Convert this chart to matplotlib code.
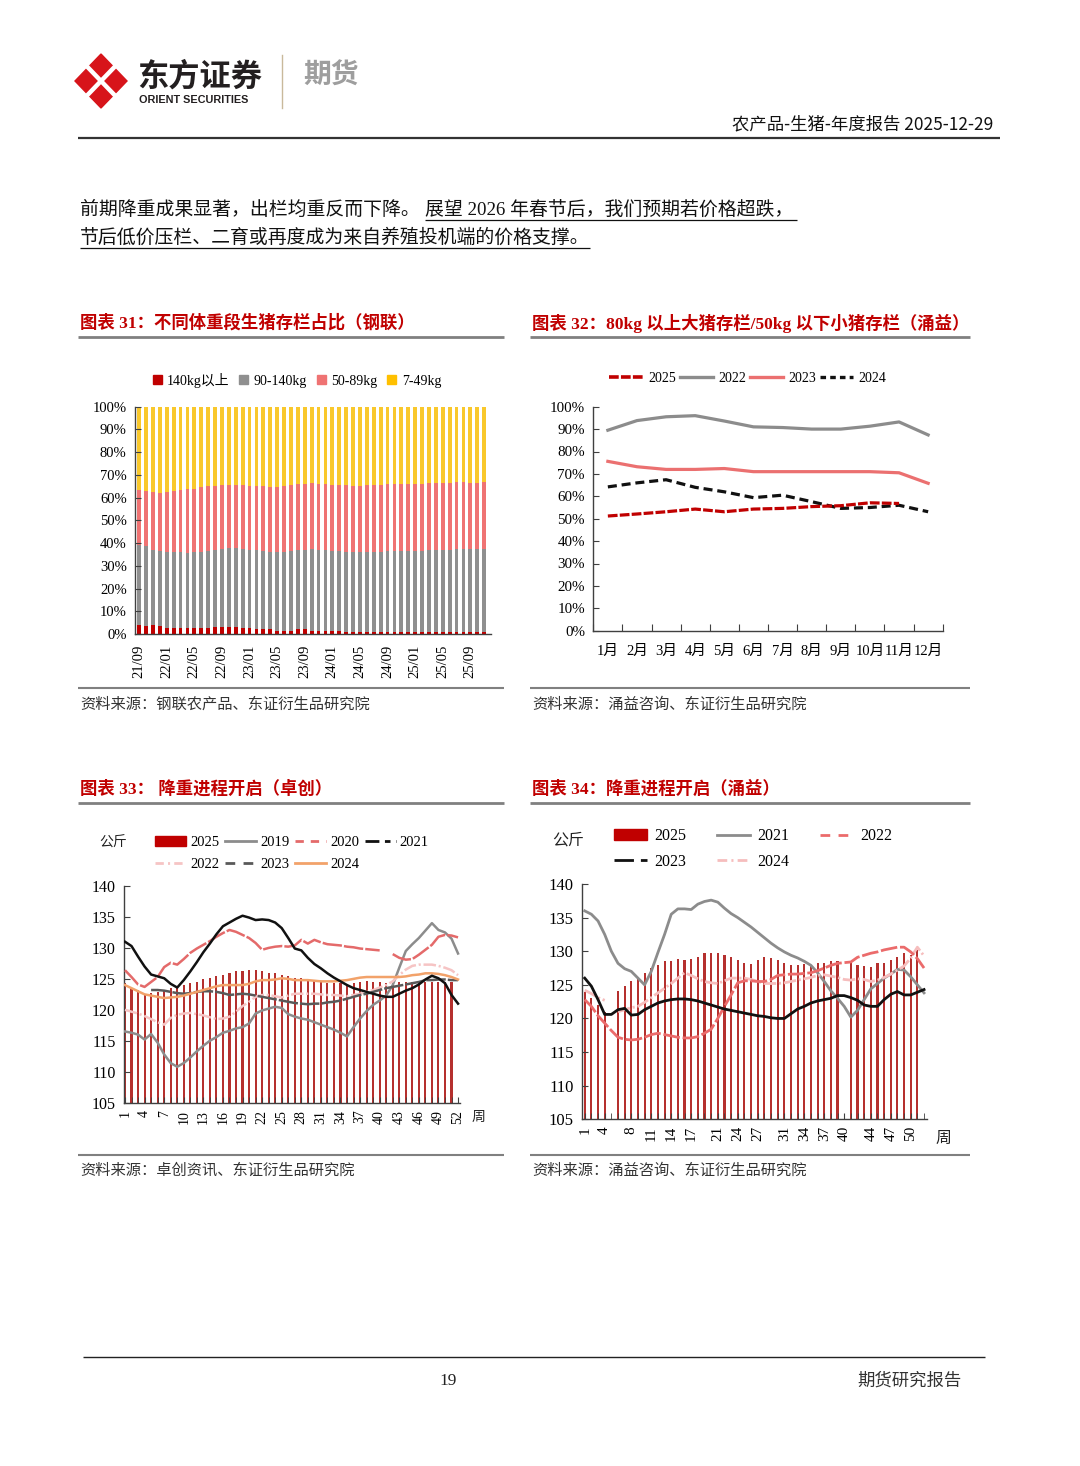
import numpy as np
import matplotlib
matplotlib.use('Agg')
import matplotlib.pyplot as plt
from matplotlib.patches import Polygon, Rectangle
from matplotlib.lines import Line2D

plt.rcParams['font.family'] = ['Liberation Serif', 'Noto Sans CJK SC']
plt.rcParams['lines.scale_dashes'] = False
plt.rcParams['axes.unicode_minus'] = False

W, H = 1080, 1466
RED = '#C00000'
AXC = '#404040'
nan = np.nan

# ---------------- chart 31: share of hogs by weight band (monthly, 21/09 - 25/11)
months31 = ['21/09', '22/01', '22/05', '22/09', '23/01', '23/05', '23/09',
            '24/01', '24/05', '24/09', '25/01', '25/05', '25/09']
heavy = [4, 3.5, 4, 3.5, 2.5, 2.5, 2.5, 2.5, 2.5, 2.5, 2.5, 3, 3, 3, 3, 2.5,
         2.5, 2, 2, 2, 1.5, 1.5, 1.5, 2, 2, 1.5, 1.5, 1.5, 1.5, 1.5, 1, 1,
         1, 1, 1, 1, 1, 1, 1, 1, 1, 1, 1, 1, 1, 1, 1, 1, 1, 1, 1]
mid = [35, 35, 33, 33, 33.5, 33.5, 33.5, 33, 33.5, 33.5, 34, 34, 34.5, 35, 35,
       35, 34.5, 35, 34.5, 34, 34.5, 34.5, 35, 35, 35, 36, 35.5, 35.5, 35, 35,
       35, 35, 35, 35, 35, 35, 35.5, 35.5, 35.5, 35.5, 35.5, 35.5, 36, 36, 36,
       36, 36.5, 36.5, 36.5, 36.5, 36.5]
light = [24.5, 24.5, 25.5, 25.5, 26.5, 27, 27.5, 28.5, 28, 28.5, 28.5, 28, 28,
         27.5, 27.5, 28, 28, 28, 28.5, 28.5, 28.5, 29, 29, 29, 29, 29, 29, 29,
         29, 29, 29.5, 29, 29, 29.5, 29.5, 29.5, 29.5, 29.5, 29.5, 29.5, 29.5,
         29.5, 29.5, 29.5, 29.5, 29.5, 29.5, 29.5, 29, 29, 29.5]
small = [36.5, 37, 37.5, 38, 37.5, 37, 36.5, 36, 36, 35.5, 35, 35, 34.5, 34.5,
         34.5, 34.5, 35, 35, 35, 35.5, 35.5, 35, 34.5, 34, 34, 33.5, 34, 34,
         34.5, 34.5, 34.5, 35, 35, 34.5, 34.5, 34.5, 34, 34, 34, 34, 34, 34,
         33.5, 33.5, 33.5, 33.5, 33, 33, 33.5, 33.5, 33]

# ---------------- chart 32: big hogs / piglets ratio (%)
month_names = ['1月', '2月', '3月', '4月', '5月', '6月', '7月', '8月', '9月',
               '10月', '11月', '12月']
r2022 = [89.5, 93.8, 95.5, 96.0, 93.6, 91.0, 90.7, 90.0, 90.0, 91.3, 93.2, 87.4]
r2023 = [75.6, 73.2, 72.0, 72.0, 72.4, 71.0, 71.0, 71.0, 71.0, 71.0, 70.5, 65.8]
r2024 = [64.2, 66.0, 67.4, 64.0, 62.0, 59.4, 60.5, 57.6, 54.6, 55.0, 56.0, 53.1]
r2025 = [51.2, 52.1, 53.1, 54.3, 53.1, 54.3, 54.6, 55.4, 55.8, 57.1, 56.8]

# ---------------- chart 33: slaughter weight, Zhuochuang (kg, weekly)
wk33_labels = [1, 4, 7, 10, 13, 16, 19, 22, 25, 28, 31, 34, 37, 40, 43, 46, 49, 52]
z2025 = [124.3, 123.5, 123.2, 122.4, 122.7, 122.9, 123.2, 123.5, 123.7, 124.0,
         124.3, 124.5, 124.9, 125.1, 125.4, 125.6, 126.0, 126.2, 126.3, 126.4,
         126.4, 126.3, 126.0, 125.9, 125.6, 125.5, 125.2, 125.1, 124.9, 124.7,
         124.5, 124.4, 124.4, 124.3, 124.2, 124.3, 124.5, 124.7, 124.5, 124.5,
         124.4, 124.4, 124.5, 124.5, 124.5, 124.5, 124.5, 124.5, 124.5, 124.5,
         124.5]
z2019 = [116.5, 116.3, 116.0, 115.2, 116.1, 114.7, 112.8, 111.4, 110.8, 111.4,
         112.3, 113.3, 114.2, 115.0, 115.6, 116.3, 116.6, 117.0, 117.2, 117.8,
         119.4, 119.9, 120.2, 120.5, 120.3, 119.3, 118.9, 118.6, 118.4, 118.0,
         117.6, 117.2, 116.8, 116.3, 115.7, 117.2, 118.6, 119.8, 120.8, 121.5,
         122.3, 124.0, 126.8, 129.5, 130.6, 131.6, 132.8, 134.0, 132.9, 132.5,
         131.5, 129.1]
z2020 = [126.4, 125.3, 124.1, 123.7, 124.5, 125.3, 126.9, 127.6, 127.3, 128.2,
         129.2, 129.9, 130.5, 131.1, 131.8, 132.4, 132.9, 132.6, 132.1, 131.6,
         130.8, 129.7, 130.0, 130.2, 130.3, 130.2, 130.4, 131.3, 130.7, 131.3,
         130.9, 130.6, 130.5, 130.4, 130.2, 130.1, 129.9, 129.8, 129.7, 129.6,
         nan, 129.0, 128.4, 128.1, 128.2, 128.9, 129.7, 130.5, 131.8, 132.1,
         132.0, 131.7]
z2021 = [131.0, 130.3, 128.6, 127.0, 125.7, 125.4, 125.1, 124.2, 123.6, 124.8,
         126.2, 127.7, 129.3, 130.7, 132.2, 133.5, 134.1, 134.7, 135.2, 134.9,
         134.5, 134.6, 134.5, 134.1, 133.2, 131.6, 129.9, 129.6, 128.4, 127.4,
         126.7, 125.9, 125.2, 124.6, 124.0, 123.5, 123.2, 122.9, 122.6, 122.3,
         122.1, 122.1, 122.6, 123.1, 123.5, 124.1, 124.9, 125.5, 125.1, 124.3,
         122.4, 121.0]
z2022 = [120.0, 119.7, 119.4, 119.0, 118.5, 118.0, 117.6, 118.7, 119.2, 119.4,
         119.5, 119.3, 119.1, 118.8, 118.5, 118.6, 118.9, 119.7, 120.6, 121.3,
         122.1, 122.4, 122.4, 122.2, 122.0, 122.3, 122.6, 122.6, 122.6, 122.6,
         122.5, 122.4, 122.4, 122.3, 122.2, 122.4, 122.6, 122.9, 123.2, 123.6,
         124.0, 124.6, 125.6, 126.5, 127.1, 127.3, 127.3, 127.3, 127.1, 126.8,
         126.4, 125.6]
z2023 = [nan, nan, nan, nan, 123.2, 123.2, 123.1, 122.9, 122.7, 122.6, 122.7,
         122.9, 123.0, 123.0, 122.9, 122.7, 122.4, 122.5, 122.6, 122.5, 122.3,
         122.1, 121.9, 121.7, 121.5, 121.3, 121.1, 121.0, 120.9, 121.0, 121.0,
         121.2, 121.3, 121.5, 121.8, 122.1, 122.4, 122.6, 122.9, 123.2, 123.5,
         123.7, 123.9, 124.1, 124.3, 124.5, 124.8, 124.8, 124.9, 124.9, 124.8,
         124.8]
z2024 = [124.0, 123.5, 123.0, 122.5, 122.3, 122.1, 121.9, 122.0, 122.1, 122.3,
         122.6, 122.9, 123.2, 123.5, 123.8, 124.0, 124.0, 124.0, 124.0, 124.2,
         124.6, 124.8, 124.8, 124.9, 125.1, 125.0, 124.8, 124.8, 124.8, 124.7,
         124.6, 124.6, 124.6, 124.7, 124.8, 125.0, 125.2, 125.3, 125.3, 125.3,
         125.3, 125.3, 125.3, 125.4, 125.6, 125.7, 125.9, 125.9, 125.8, 125.6,
         125.3, 124.9]

# ---------------- chart 34: slaughter weight, Yongyi (kg, weekly)
wk34_labels = [1, 4, 8, 11, 14, 17, 21, 24, 27, 31, 34, 37, 40, 44, 47, 50]
y2025 = [124.0, 123.0, 122.0, 121.0, nan, 124.1, 124.9, 125.6, 126.2, 126.7,
         127.5, 128.0, 128.5, 128.6, 128.8, 128.7, 128.8, 129.1, 129.7, 129.8,
         129.7, 129.5, 129.2, 128.7, 128.2, 128.1, 128.7, 129.1, 129.0, 128.7,
         128.2, 128.0, 127.9, 128.1, 128.0, 128.3, 128.3, 128.5, 128.5, nan,
         128.2, 128.0, 127.8, 127.7, 128.2, 128.3, 128.7, 129.2, 129.8, 129.5,
         130.2]
y2021 = [136.0, 135.5, 134.5, 132.5, 130.0, 128.2, 127.4, 127.0, 126.0, 125.0,
         127.0, 129.8, 132.5, 135.5, 136.3, 136.3, 136.2, 137.0, 137.4, 137.6,
         137.3, 136.4, 135.6, 135.0, 134.3, 133.6, 132.8, 132.0, 131.2, 130.5,
         129.9, 129.4, 129.0, 128.5, 127.9, 126.8, 125.5, 124.1, 123.0, 121.8,
         120.2, 121.2, 122.8, 124.4, 125.2, 126.0, 126.6, 127.3, 127.2, 126.2,
         125.0, 123.8]
y2022 = [122.8, 121.8, 120.4, 119.3, 118.2, 117.2, 116.9, 116.8, 116.9, 117.2,
         117.6, 117.8, 117.6, 117.4, 117.2, 117.1, 117.1, 117.3, 117.8, 118.4,
         120.0, 121.8, 123.5, 125.3, 125.6, 125.6, 125.5, 125.5, 125.8, 126.4,
         126.5, 126.6, 126.6, 126.7, 126.8, 127.1, 127.5, 127.9, 128.2, 128.3,
         128.4, 129.1, 129.4, 129.7, 129.9, 130.2, 130.4, 130.6, 130.6, 129.9,
         128.9, 127.5]
y2023 = [126.0, 124.8, 122.8, 120.6, 120.6, 121.3, 121.5, 120.5, 120.6, 121.3,
         121.8, 122.3, 122.6, 122.8, 122.9, 122.9, 122.8, 122.6, 122.3, 122.0,
         121.7, 121.4, 121.2, 121.0, 120.8, 120.6, 120.4, 120.3, 120.1, 120.0,
         120.0, 120.7, 121.4, 121.8, 122.3, 122.6, 122.8, 123.0, 123.4, 123.4,
         123.1, 122.7, 122.0, 121.8, 121.8, 122.8, 123.6, 124.0, 123.5, 123.5,
         123.9, 124.3]
y2024 = [124.2, 123.7, 123.1, 122.7, nan, 121.0, 121.3, 121.6, 121.8, 122.4,
         123.1, 123.8, 124.5, 125.2, 126.0, 126.8, 126.4, 125.9, 125.5, 125.3,
         125.2, 125.6, 126.0, 126.0, 126.0, 125.8, 125.5, 125.2, 125.2, 125.2,
         125.3, 125.5, 125.7, 125.9, 126.1, 126.4, 126.5, 126.3, 126.1, 125.8,
         125.7, 125.9, 125.8, 125.5, 125.7, 126.1, 126.6, 127.2, 127.8, 129.0,
         130.6, 129.3]


fig = plt.figure(figsize=(W / 100, H / 100), dpi=100)
page = fig.add_axes([0, 0, 1, 1], zorder=0)
page.set_xlim(0, W)
page.set_ylim(H, 0)
page.axis('off')


def ax_at(x0, y0, x1, y1):
    """axes from a pixel box (top-left origin)"""
    return fig.add_axes([x0 / W, 1 - y1 / H, (x1 - x0) / W, (y1 - y0) / H], zorder=2)


def hline(x0, x1, y, color, lw):
    page.plot([x0, x1], [y, y], color=color, lw=lw, solid_capstyle='butt')


def style_axes(ax, ylab_size, xlab_size):
    for s in ('top', 'right'):
        ax.spines[s].set_visible(False)
    for s in ('left', 'bottom'):
        ax.spines[s].set_color(AXC)
        ax.spines[s].set_linewidth(1.0)
    ax.tick_params(axis='y', direction='in', length=4, color=AXC,
                   labelsize=ylab_size, pad=6)
    ax.tick_params(axis='x', labelsize=xlab_size)


# ---------------- page header
page.add_patch(Polygon([(101, 54), (127, 81), (101, 108), (75, 81)],
                       closed=True, color='#D7141A'))
page.plot([88, 114], [67.5, 94.5], color='white', lw=3.2)
page.plot([114, 88], [67.5, 94.5], color='white', lw=3.2)
page.text(137, 77, '东方证券', fontsize=22.5, fontweight='bold', color='#231F20',
          va='center', ha='left', family=['Noto Sans CJK SC'])
page.text(139, 100, 'ORIENT SECURITIES', fontsize=7.8, fontweight='bold',
          color='#231F20', va='center', ha='left', family=['Liberation Sans'])
page.plot([282, 282], [55, 108], color='#C9B99B', lw=1)
page.text(303, 76, '期货', fontsize=20, fontweight='bold', color='#9E9E9E',
          va='center', ha='left', family=['Noto Sans CJK SC'])
page.text(993, 124, '农产品-生猪-年度报告 2025-12-29', fontsize=12.5, color='#111',
          va='center', ha='right', family=['Noto Sans CJK SC'])
hline(78, 1000, 138, '#333333', 1.6)

# body text
page.text(80, 210, '前期降重成果显著，出栏均重反而下降。', fontsize=13.6,
          va='center', ha='left', color='#111')
page.text(425, 210, '展望 2026 年春节后，我们预期若价格超跌，', fontsize=13.6,
          va='center', ha='left', color='#111')
hline(425, 797, 220, '#111', 0.9)
page.text(80, 238, '节后低价压栏、二育或再度成为来自养殖投机端的价格支撑。',
          fontsize=13.6, va='center', ha='left', color='#111')
hline(80, 590, 248, '#111', 0.9)

# section titles, rules and sources
titles = [(80, 323, '图表 31：不同体重段生猪存栏占比（钢联）'),
          (532, 323, '图表 32：80kg 以上大猪存栏/50kg 以下小猪存栏（涌益）'),
          (80, 789, '图表 33： 降重进程开启（卓创）'),
          (532, 789, '图表 34：降重进程开启（涌益）')]
for tx, ty, t in titles:
    page.text(tx, ty, t, fontsize=12.5, fontweight='bold', color=RED,
              va='center', ha='left')
for y in (337, 803):
    hline(78, 504, y, '#808080', 2)
    hline(530, 970, y, '#808080', 2)
for y in (688, 1155):
    hline(78, 504, y, '#808080', 1.5)
    hline(530, 970, y, '#808080', 1.5)
sources = [(80, 704, '资料来源：钢联农产品、东证衍生品研究院'),
           (532, 704, '资料来源：涌益咨询、东证衍生品研究院'),
           (80, 1170, '资料来源：卓创资讯、东证衍生品研究院'),
           (532, 1170, '资料来源：涌益咨询、东证衍生品研究院')]
for tx, ty, t in sources:
    page.text(tx, ty, t, fontsize=11, color='#333333', va='center', ha='left')

# footer
hline(83, 985, 1357, '#222222', 1)
page.text(448, 1381, '19', fontsize=12.5, color='#222', va='center', ha='center')
page.text(962, 1381, '期货研究报告', fontsize=12.5, color='#333', va='center',
          ha='right')

# ---------------- chart 31
ax1 = ax_at(135, 406.7, 491, 634)
x31 = np.arange(len(heavy))
bottom = np.zeros(len(x31))
for vals, col, lab in [(heavy, RED, '140kg以上'), (mid, '#8F8F8F', '90-140kg'),
                       (light, '#EF7373', '50-89kg'), (small, '#F9C82C', '7-49kg')]:
    ax1.bar(x31, vals, bottom=bottom, width=0.55, color=col, label=lab, linewidth=0)
    bottom = bottom + np.array(vals)
ax1.set_xlim(-0.6, 51)
ax1.set_ylim(0, 100)
ax1.set_yticks(range(0, 101, 10))
ax1.set_yticklabels([f'{v}%' for v in range(0, 101, 10)])
ax1.set_xticks(x31[::4])
ax1.set_xticklabels(months31, rotation=90)
style_axes(ax1, 10.5, 10.5)
ax1.tick_params(axis='x', length=0, pad=8)
h1 = [Rectangle((0, 0), 1, 1, color=c) for c in (RED, '#8F8F8F', '#EF7373', '#FFC000')]
ax1.legend(h1, ['140kg以上', '90-140kg', '50-89kg', '7-49kg'], loc='center',
           bbox_to_anchor=(0.455, 1.117), ncol=4, frameon=False, fontsize=10,
           handlelength=0.65, handleheight=0.65, handletextpad=0.4,
           columnspacing=0.7, borderpad=0)

# ---------------- chart 32
ax2 = ax_at(593.3, 406.7, 942.7, 630.7)
m = np.arange(1, 13)
ax2.plot(m, r2022, color='#8C8C8C', lw=2.3, label='2022')
ax2.plot(m, r2023, color='#EB7070', lw=2.3, label='2023')
ax2.plot(m, r2024, color='#111111', lw=2.3, dashes=(6.5, 3.5), label='2024')
ax2.plot(m[:len(r2025)], r2025, color=RED, lw=2.3, dashes=(7, 1.6), label='2025')
ax2.set_xlim(0.5, 12.5)
ax2.set_ylim(0, 100)
ax2.set_yticks(range(0, 101, 10))
ax2.set_yticklabels([f'{v}%' for v in range(0, 101, 10)])
ax2.set_xticks(np.arange(0.5, 13, 1))
ax2.set_xticklabels([])
ax2.set_xticks(m, minor=True)
ax2.set_xticklabels(month_names, minor=True)
style_axes(ax2, 10.8, 10)
ax2.tick_params(axis='x', which='major', direction='in', length=5, color=AXC)
ax2.tick_params(axis='x', which='minor', length=0, pad=10, labelsize=10.5)
hd2 = [Line2D([], [], color=RED, lw=2.6, dashes=(7, 1.6)),
       Line2D([], [], color='#8C8C8C', lw=2.4),
       Line2D([], [], color='#EB7070', lw=2.4),
       Line2D([], [], color='#111111', lw=2.4, dashes=(4, 3))]
ax2.legend(hd2, ['2025', '2022', '2023', '2024'], loc='center',
           bbox_to_anchor=(0.443, 1.128), ncol=4, frameon=False, fontsize=10,
           handlelength=2.4, handletextpad=0.4, columnspacing=0.25, borderpad=0)

# ---------------- chart 33
ax3 = ax_at(124, 886, 460, 1102.7)
w33 = np.arange(1, 53)
ax3.bar(np.arange(1, len(z2025) + 1), z2025, width=0.32, color='#B5302E',
        linewidth=0, zorder=1)
ax3.plot(w33, z2019, color='#8C8C8C', lw=1.8, zorder=3)
ax3.plot(w33, z2020, color='#E46A6A', lw=1.8, dashes=(14, 1.5), zorder=3)
ax3.plot(w33, z2022, color='#F6C4C4', lw=1.8, dashes=(9, 2, 1.5, 2), zorder=3)
ax3.plot(w33, z2023, color='#595959', lw=1.8, dashes=(14, 1.5), zorder=3)
ax3.plot(w33, z2024, color='#F2A26A', lw=1.8, zorder=3)
ax3.plot(w33, z2021, color='#111111', lw=1.8, zorder=4)
ax3.set_xlim(0.85, 52.3)
ax3.set_ylim(105, 140)
ax3.set_yticks(range(105, 141, 5))
ax3.set_xticks(w33, minor=True)
ax3.set_xticks(wk33_labels)
ax3.set_xticklabels([str(v) for v in wk33_labels], rotation=90)
style_axes(ax3, 11.5, 10)
ax3.tick_params(axis='x', which='both', direction='in', length=4, color=AXC, pad=5)
hd3 = {
    '2025': Rectangle((0, 0), 1, 1, color=RED),
    '2019': Line2D([], [], color='#8C8C8C', lw=2),
    '2020': Line2D([], [], color='#E46A6A', lw=2, dashes=(6, 5)),
    '2021': Line2D([], [], color='#111111', lw=2, dashes=(10, 4, 4, 4)),
    '2022': Line2D([], [], color='#F6C4C4', lw=2, dashes=(6, 3, 1.5, 3)),
    '2023': Line2D([], [], color='#595959', lw=2, dashes=(7, 6)),
    '2024': Line2D([], [], color='#F2A26A', lw=2),
}
order3 = ['2025', '2022', '2019', '2023', '2020', '2024', '2021']
ax3.legend([hd3[k] for k in order3], order3, loc='center',
           bbox_to_anchor=(0.5, 1.15), ncol=4, frameon=False, fontsize=10.5,
           handlelength=2.1, handleheight=0.65, handletextpad=0.3,
           columnspacing=0.4, labelspacing=0.6, borderpad=0)
page.text(113, 843, '公斤', fontsize=10, va='center', ha='center', color='#222')
page.text(478, 1117, '周', fontsize=10, va='center', ha='center', color='#222')

# ---------------- chart 34
ax4 = ax_at(582, 884, 926.7, 1119.3)
w34 = np.arange(1, 53)
ax4.bar(np.arange(1, len(y2025) + 1), y2025, width=0.32, color='#B5302E',
        linewidth=0, zorder=1)
ax4.plot(w34, y2021, color='#8C8C8C', lw=2, zorder=3)
ax4.plot(w34, y2024, color='#F6BDBD', lw=2, dashes=(9, 2, 1.5, 2), zorder=3)
ax4.plot(w34, y2022, color='#EB6B6B', lw=2, dashes=(12, 2), zorder=3)
ax4.plot(w34, y2023, color='#111111', lw=2, zorder=4)
ax4.set_xlim(0.59, 52.4)
ax4.set_ylim(105, 140)
ax4.set_yticks(range(105, 141, 5))
ax4.set_xticks(w34, minor=True)
ax4.set_xticks(wk34_labels)
ax4.set_xticklabels([str(v) for v in wk34_labels], rotation=90)
style_axes(ax4, 12, 11)
ax4.tick_params(axis='x', which='both', direction='in', length=4, color=AXC, pad=5)
hd4 = {
    '2025': Rectangle((0, 0), 1, 1, color=RED),
    '2021': Line2D([], [], color='#8C8C8C', lw=2),
    '2022': Line2D([], [], color='#EB6B6B', lw=2, dashes=(7, 6)),
    '2023': Line2D([], [], color='#111111', lw=2, dashes=(14, 5, 5, 5)),
    '2024': Line2D([], [], color='#F6BDBD', lw=2, dashes=(7, 3, 1.5, 3)),
}
order4 = ['2025', '2023', '2021', '2024', '2022']
ax4.legend([hd4[k] for k in order4], order4, loc='center',
           bbox_to_anchor=(0.496, 1.149), ncol=3, frameon=False, fontsize=11.5,
           handlelength=2.1, handleheight=0.65, handletextpad=0.45,
           columnspacing=1.9, labelspacing=0.6, borderpad=0)
page.text(568, 840, '公斤', fontsize=11.5, va='center', ha='center', color='#222')
page.text(943, 1139, '周', fontsize=11.5, va='center', ha='center', color='#222')

fig.savefig('out.png', dpi=100, facecolor='white')
